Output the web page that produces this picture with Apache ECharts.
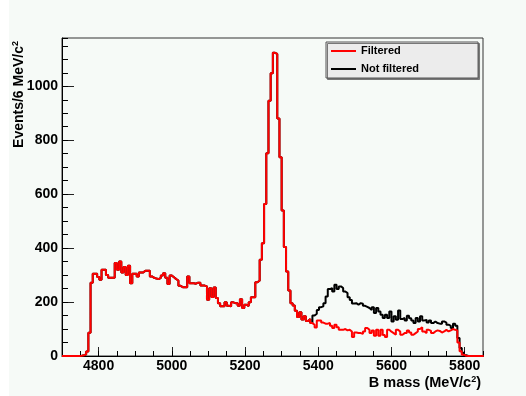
<!DOCTYPE html>
<html>
<head>
<meta charset="utf-8">
<script src="https://cdn.jsdelivr.net/npm/echarts@6/dist/echarts.min.js"></script>
<style>
  html, body { margin: 0; padding: 0; background: #f6faf7; }
  #chart { width: 526px; height: 396px; }
</style>
</head>
<body>
<div id="chart"></div>
<script>
// Histogram binning (MeV/c^2): 6 MeV bins starting at 4700
const BIN_LOW = 4700;
const BIN_WIDTH = 6;
const X_MIN = 4700;
const X_MAX = 5850;
const Y_MAX = 1179;

// Events per bin, filtered sample
const filtered = [
  0, 0, 0, 0, 0, 0, 0, 0,
  1, 3, 6, 17, 86, 272, 305, 305,
  293, 283, 320, 320, 300, 290, 290, 290,
  345, 320, 350, 310, 330, 300, 335, 270,
  305, 305, 295, 310, 310, 316, 316, 316,
  295, 290, 287, 285, 290, 298, 307, 290,
  267, 298, 292, 285, 280, 260, 255, 255,
  255, 295, 270, 270, 268, 272, 272, 261,
  261, 258, 209, 251, 219, 254, 215, 196,
  184, 184, 199, 186, 184, 199, 196, 196,
  186, 210, 178, 190, 185, 199, 218, 218,
  273, 280, 357, 418, 564, 752, 946, 1048,
  1124, 1120, 881, 737, 539, 404, 313, 243,
  196, 187, 168, 145, 162, 135, 147, 130,
  137, 122, 116, 106, 132, 132, 124, 120,
  120, 122, 112, 104, 116, 107, 97, 97,
  100, 95, 97, 91, 70, 87, 85, 85,
  82, 91, 104, 97, 85, 95, 75, 97,
  75, 97, 78, 70, 97, 90, 85, 79,
  97, 91, 79, 85, 85, 95, 87, 79,
  85, 91, 100, 107, 91, 85, 97, 93,
  85, 91, 95, 93, 87, 91, 97, 91,
  95, 100, 97, 95, 50, 18, 5, 1,
  0, 0, 0, 0, 0, 0, 0, 0
];

// Events per bin, sample without the filter
const notFiltered = [
  0, 0, 0, 0, 0, 0, 0, 0,
  1, 3, 6, 17, 86, 272, 305, 305,
  293, 283, 320, 320, 300, 290, 290, 290,
  345, 320, 350, 310, 330, 300, 335, 270,
  305, 305, 295, 310, 310, 316, 316, 316,
  295, 290, 287, 285, 290, 298, 307, 290,
  267, 298, 292, 285, 280, 260, 255, 255,
  255, 295, 270, 270, 268, 272, 272, 261,
  261, 258, 209, 251, 219, 254, 215, 196,
  184, 184, 199, 186, 184, 199, 196, 196,
  186, 210, 178, 190, 185, 199, 218, 218,
  273, 280, 357, 418, 564, 752, 946, 1048,
  1124, 1120, 881, 737, 539, 404, 313, 243,
  196, 187, 168, 145, 162, 135, 147, 130,
  137, 122, 150, 157, 171, 181, 184, 196,
  221, 248, 252, 239, 264, 248, 258, 252,
  239, 233, 218, 208, 195, 196, 190, 196,
  194, 186, 182, 178, 171, 181, 159, 178,
  165, 153, 141, 153, 141, 165, 128, 147,
  134, 169, 137, 141, 132, 149, 140, 132,
  122, 141, 128, 147, 132, 134, 124, 132,
  122, 128, 122, 120, 120, 128, 124, 116,
  112, 104, 120, 112, 67, 30, 12, 3,
  0, 0, 0, 0, 0, 0, 0, 0
];

// Axis tick labels
const xTickValues = [4800, 5000, 5200, 5400, 5600, 5800];
const yTickValues = [0, 200, 400, 600, 800, 1000];

const FONT = '"Liberation Sans", Arial, Helvetica, sans-serif';

// Turn bin contents into step-line points: one point per lower bin edge
// plus a closing point at the upper edge of the last bin.
function toSteps(counts) {
  const pts = counts.map((c, i) => [BIN_LOW + i * BIN_WIDTH, c]);
  pts.push([BIN_LOW + counts.length * BIN_WIDTH, counts[counts.length - 1]]);
  return pts;
}

const chart = echarts.init(document.getElementById('chart'), null, { renderer: 'canvas' });

const majorLabel = {
  color: '#000',
  fontFamily: FONT,
  fontWeight: 'bold',
  fontSize: 14,
  formatter: (v) => String(v)
};

chart.setOption({
  animation: false,
  backgroundColor: '#f6faf7',
  grid: {
    left: 62, right: 43, top: 38, bottom: 40,
    show: true,
    borderColor: '#333',
    borderWidth: 1,
    backgroundColor: 'transparent'
  },
  xAxis: [
    {
      type: 'value', min: X_MIN, max: X_MAX, position: 'bottom',
      axisLine: { show: true, lineStyle: { color: '#000', width: 1 } },
      axisTick: { show: true, inside: true, length: 9, customValues: xTickValues,
                  lineStyle: { color: '#222', width: 1 } },
      axisLabel: Object.assign({ customValues: xTickValues, margin: 3 }, majorLabel),
      splitLine: { show: false }
    },
    {
      type: 'value', min: X_MIN, max: X_MAX, interval: 50, position: 'bottom',
      axisLine: { show: false },
      axisTick: { show: true, inside: true, length: 5, lineStyle: { color: '#000', width: 1 } },
      axisLabel: { show: false },
      splitLine: { show: false }
    }
  ],
  yAxis: [
    {
      type: 'value', min: 0, max: Y_MAX, position: 'left',
      axisLine: { show: true, lineStyle: { color: '#000', width: 1 } },
      axisTick: { show: true, inside: true, length: 12, customValues: yTickValues,
                  lineStyle: { color: '#222', width: 1 } },
      axisLabel: Object.assign({ customValues: yTickValues, margin: 4 }, majorLabel),
      splitLine: { show: false }
    },
    {
      type: 'value', min: 0, max: Y_MAX, interval: 50, position: 'left',
      axisLine: { show: false },
      axisTick: { show: true, inside: true, length: 6, lineStyle: { color: '#000', width: 1 } },
      axisLabel: { show: false },
      splitLine: { show: false }
    }
  ],
  legend: {
    orient: 'vertical',
    left: 326, top: 42,
    data: [{ name: 'Filtered' }, { name: 'Not filtered' }],
    icon: 'rect',
    itemWidth: 25, itemHeight: 2,
    itemGap: 4,
    padding: [2, 59, 2, 5],
    backgroundColor: '#ececec',
    borderColor: '#555',
    borderWidth: 1,
    shadowColor: '#777',
    shadowOffsetX: 1.5,
    shadowOffsetY: 1.5,
    shadowBlur: 0,
    textStyle: { color: '#000', fontFamily: FONT, fontWeight: 'bold', fontSize: 11, lineHeight: 14 }
  },
  graphic: [
    { type: 'rect', silent: true, shape: { x: 0, y: 0, width: 9, height: 396 }, style: { fill: '#ffffff' } },
    {
      type: 'text', silent: true, x: 481, y: 383,
      style: {
        text: '{a|B mass (MeV/c}{s|2}{a|)}',
        align: 'right', verticalAlign: 'middle',
        rich: {
          a: { fontFamily: FONT, fontWeight: 'bold', fontSize: 14.5, fill: '#000', lineHeight: 16 },
          s: { fontFamily: FONT, fontWeight: 'bold', fontSize: 9, fill: '#000', verticalAlign: 'top', lineHeight: 9 }
        }
      }
    },
    {
      type: 'text', silent: true, x: 19, y: 41, rotation: Math.PI / 2,
      style: {
        text: '{a|Events/6 MeV/c}{s|2}',
        align: 'right', verticalAlign: 'middle',
        rich: {
          a: { fontFamily: FONT, fontWeight: 'bold', fontSize: 14, fill: '#000', lineHeight: 16 },
          s: { fontFamily: FONT, fontWeight: 'bold', fontSize: 9, fill: '#000', verticalAlign: 'top', lineHeight: 9 }
        }
      }
    }
  ],
  series: [
    {
      name: 'Not filtered', type: 'line', step: 'end',
      xAxisIndex: 0, yAxisIndex: 0,
      data: toSteps(notFiltered),
      symbol: 'none', showSymbol: false,
      color: '#000000',
      lineStyle: { color: '#000000', width: 2 },
      z: 2
    },
    {
      name: 'Filtered', type: 'line', step: 'end',
      xAxisIndex: 0, yAxisIndex: 0,
      data: toSteps(filtered),
      symbol: 'none', showSymbol: false,
      color: '#ff0000',
      lineStyle: { color: '#ff0000', width: 2 },
      z: 3
    }
  ]
});
</script>
</body>
</html>
